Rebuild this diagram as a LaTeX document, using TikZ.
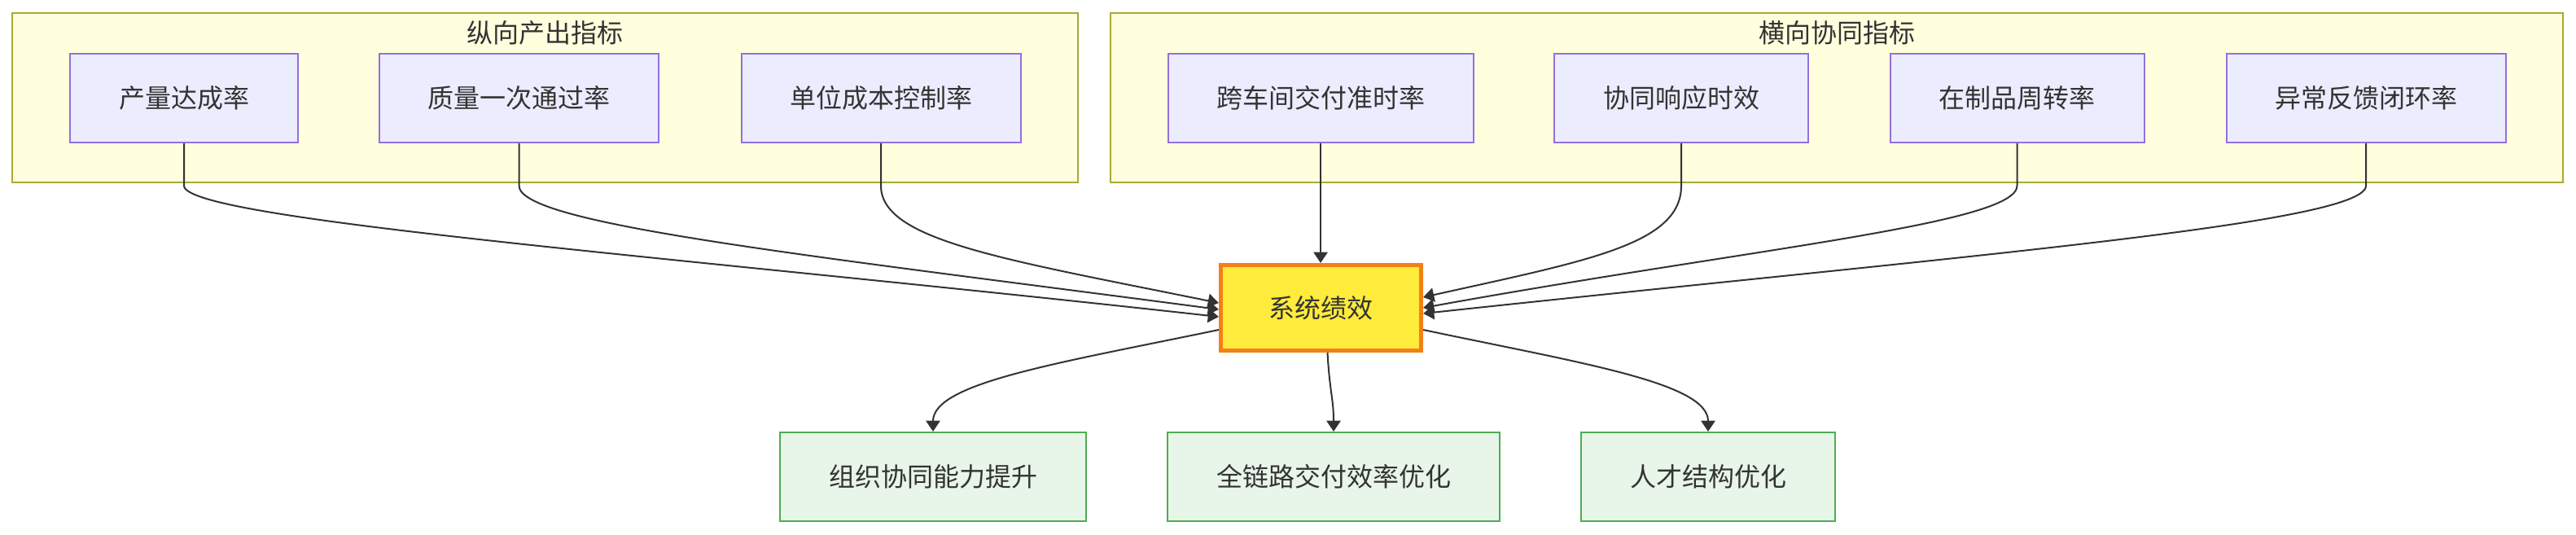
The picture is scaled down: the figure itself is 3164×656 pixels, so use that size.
\documentclass[tikz,border=0pt]{standalone}
\usepackage{fontspec}
\newfontfamily\cjk{Noto Sans CJK SC}
\usetikzlibrary{arrows.meta}
\definecolor{clfill}{HTML}{FFFFDE}
\definecolor{cldraw}{HTML}{AAAA33}
\definecolor{tpfill}{HTML}{ECECFF}
\definecolor{tpdraw}{HTML}{9370DB}
\definecolor{cefill}{HTML}{FFEB3B}
\definecolor{cedraw}{HTML}{F57F17}
\definecolor{btfill}{HTML}{E8F5E9}
\definecolor{btdraw}{HTML}{4CAF50}
\definecolor{ink}{HTML}{333333}
\begin{document}
\begin{tikzpicture}[x=0.25pt,y=-0.25pt,
  every node/.style={font=\cjk\fontsize{8pt}{9.6pt}\selectfont, text=ink, inner sep=0pt},
  clusterbox/.style={draw=cldraw, fill=clfill, line width=0.5pt, minimum height=52pt},
  cltitle/.style={},
  topbox/.style={draw=tpdraw, fill=tpfill, line width=0.5pt, minimum height=27.25pt},
  centerbox/.style={draw=cedraw, fill=cefill, line width=1.3pt, minimum height=26.25pt, minimum width=61.5pt},
  botbox/.style={draw=btdraw, fill=btfill, line width=0.55pt, minimum height=27.25pt},
  edge/.style={draw=ink, line width=0.5pt, -{Triangle[length=3.3pt,width=4.3pt]}}
]
\useasboundingbox (0,0) rectangle (3164,656);
% clusters
\node[clusterbox, minimum width=327.25pt] (L) at (669.5,120) {};
\node[clusterbox, minimum width=446pt] (R) at (2256,120) {};
\node[cltitle] (Lt) at (669.5,40) {纵向产出指标};
\node[cltitle] (Rt) at (2256,40) {横向协同指标};
% top nodes
\node[topbox, minimum width=70pt] (a1) at (226,120.5) {产量达成率};
\node[topbox, minimum width=85.75pt] (a2) at (637.5,120.5) {质量一次通过率};
\node[topbox, minimum width=85.75pt] (a3) at (1082,120.5) {单位成本控制率};
\node[topbox, minimum width=93.75pt] (b1) at (1622,120.5) {跨车间交付准时率};
\node[topbox, minimum width=78pt] (b2) at (2065,120.5) {协同响应时效};
\node[topbox, minimum width=78pt] (b3) at (2477.5,120.5) {在制品周转率};
\node[topbox, minimum width=85.75pt] (b4) at (2906,120.5) {异常反馈闭环率};
% center
\node[centerbox] (c) at (1622.5,378) {系统绩效};
% bottom
\node[botbox, minimum width=94pt] (d1) at (1146,585.5) {组织协同能力提升};
\node[botbox, minimum width=102pt] (d2) at (1638,585.5) {全链路交付效率优化};
\node[botbox, minimum width=78pt] (d3) at (2098,585.5) {人才结构优化};
% edges into center
\draw[edge] (a1.south) -- (226,228) .. controls (226,270) and (830,315) .. ([yshift=-2.75pt]c.west);
\draw[edge] (a2.south) -- (637.5,228) .. controls (637.5,275) and (981,312) .. ([yshift=-0.5pt]c.west);
\draw[edge] (a3.south) -- (1082,228) .. controls (1082,295) and (1231,318) .. ([yshift=1.5pt]c.west);
\draw[edge] (b1.south) -- (b1.south |- c.north);
\draw[edge] (b2.south) -- (2065,228) .. controls (2065,300) and (1950,320) .. ([yshift=3.25pt]c.east);
\draw[edge] (b3.south) -- (2477.5,228) .. controls (2477.5,275) and (2150,305) .. ([yshift=0pt]c.east);
\draw[edge] (b4.south) -- (2906,228) .. controls (2906,275) and (2400,315) .. ([yshift=-1.75pt]c.east);
% edges out of center
\draw[edge] ([yshift=-6.75pt]c.west) .. controls (1300,446) and (1146,470) .. (d1.north);
\draw[edge] ([xshift=2pt]c.south) .. controls (1633,480) and (1638,490) .. (d2.north);
\draw[edge] ([yshift=-6.75pt]c.east) .. controls (1942,446) and (2098,470) .. (d3.north);
\end{tikzpicture}
\end{document}
